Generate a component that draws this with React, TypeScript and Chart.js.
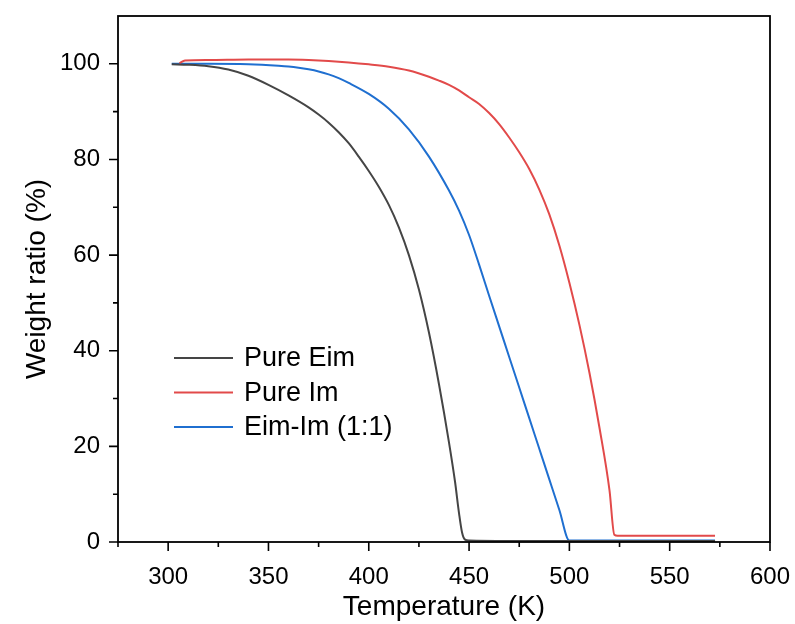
import React, { useEffect, useRef } from "react";
import { Chart, registerables } from "chart.js";

Chart.register(...registerables);

// Thermogravimetric curves: temperature (K) vs remaining weight (%)
const eimTemp = [301.8, 310, 320, 330, 340, 350, 360, 370, 375, 380, 385, 390, 395, 400, 405, 410, 415, 420, 425, 430, 435, 440, 443, 445, 446.5, 448, 450, 470, 500, 540, 572.6];
const eimWeight = [99.9, 99.8, 99.5, 98.8, 97.5, 95.6, 93.4, 90.9, 89.4, 87.7, 85.7, 83.4, 80.6, 77.6, 74.3, 70.5, 65.8, 60.0, 52.8, 43.8, 33.0, 20.8, 12.6, 6.0, 2.0, 0.5, 0.3, 0.2, 0.2, 0.2, 0.2];

const imTemp = [305.6, 308.4, 320, 340, 360, 370, 380, 390, 400, 410, 420, 430, 435, 440, 445, 450, 455, 460, 465, 470, 475, 480, 485, 490, 495, 500, 505, 510, 515, 520, 522.4, 524, 550, 572.6];
const imWeight = [100.1, 100.7, 100.8, 100.9, 100.9, 100.8, 100.6, 100.3, 99.9, 99.4, 98.6, 97.3, 96.5, 95.6, 94.45, 93.0, 91.6, 89.7, 87.4, 84.6, 81.5, 78.0, 73.7, 68.5, 62.0, 54.2, 45.4, 35.4, 23.9, 10.8, 1.5, 1.3, 1.3, 1.3];

const mixTemp = [301.8, 320, 340, 355, 360, 365, 370, 375, 380, 385, 390, 400, 410, 420, 430, 440, 445, 450, 455, 460, 465, 470, 475, 480, 485, 490, 495, 500, 520, 550, 572.6];
const mixWeight = [100.0, 100.0, 99.9, 99.6, 99.45, 99.2, 98.85, 98.4, 97.8, 97.0, 96.0, 93.7, 90.6, 86.3, 80.6, 73.5, 69.3, 64.2, 58.0, 51.5, 45.1, 38.7, 32.3, 25.9, 19.5, 13.1, 6.7, 0.3, 0.3, 0.3, 0.3];

const seriesLabels = ["Pure Eim", "Pure Im", "Eim-Im (1:1)"];
const seriesColors = ["#454545", "#e24a4a", "#1f6fd0"];

const xMajorTicks = [300, 350, 400, 450, 500, 550, 600];
const xMinorTicks = [275, 325, 375, 425, 475, 525, 575];
const yMajorTicks = [0, 20, 40, 60, 80, 100];
const yMinorTicks = [10, 30, 50, 70, 90];

const FONT = "'Liberation Sans', Arial, Helvetica, sans-serif";

const toPoints = (xs: number[], ys: number[]) => xs.map((x, i) => ({ x, y: ys[i] }));

// Keep the plot box at a fixed size: drop the label overhang padding Chart.js adds
const clearScalePadding = (s: any) => {
  s.paddingTop = 0;
  s.paddingBottom = 0;
  s.paddingLeft = 0;
  s.paddingRight = 0;
};

// Draws the closed frame, the outward major/minor ticks and the in-plot legend
const framePlugin = {
  id: "frameTicksLegend",
  afterDatasetsDraw(chart: any) {
    const { ctx, chartArea: a, scales } = chart;
    const xs = scales.x;
    const ys = scales.y;
    ctx.save();
    ctx.strokeStyle = "#000";
    ctx.lineWidth = 1.8;
    ctx.strokeRect(a.left, a.top, a.right - a.left, a.bottom - a.top);

    ctx.lineWidth = 1.6;
    ctx.beginPath();
    const tick = (v: number, len: number, horiz: boolean) => {
      if (horiz) {
        const px = xs.getPixelForValue(v);
        ctx.moveTo(px, a.bottom);
        ctx.lineTo(px, a.bottom + len);
      } else {
        const py = ys.getPixelForValue(v);
        ctx.moveTo(a.left, py);
        ctx.lineTo(a.left - len, py);
      }
    };
    xMajorTicks.forEach((v) => tick(v, 9, true));
    xMinorTicks.forEach((v) => tick(v, 5, true));
    yMajorTicks.forEach((v) => tick(v, 9, false));
    yMinorTicks.forEach((v) => tick(v, 5, false));
    ctx.stroke();

    // legend
    const lx0 = a.left + 56;
    const lx1 = a.left + 115;
    const tx = a.left + 126;
    const ty0 = a.top + 342;
    const rowGap = 34.5;
    ctx.font = `27px ${FONT}`;
    ctx.textBaseline = "middle";
    ctx.textAlign = "left";
    chart.data.datasets.forEach((ds: any, i: number) => {
      const yy = ty0 + i * rowGap;
      ctx.strokeStyle = ds.borderColor;
      ctx.lineWidth = 2;
      ctx.beginPath();
      ctx.moveTo(lx0, yy);
      ctx.lineTo(lx1, yy);
      ctx.stroke();
      ctx.fillStyle = "#000";
      ctx.fillText(ds.label, tx, yy + 1);
    });
    ctx.restore();
  },
};

export default function App() {
  const canvasRef = useRef<HTMLCanvasElement | null>(null);

  useEffect(() => {
    if (!canvasRef.current) return;
    const series = [
      toPoints(eimTemp, eimWeight),
      toPoints(imTemp, imWeight),
      toPoints(mixTemp, mixWeight),
    ];
    const chart = new Chart(canvasRef.current, {
      type: "line",
      data: {
        datasets: series.map((data, i) => ({
          label: seriesLabels[i],
          data,
          borderColor: seriesColors[i],
          backgroundColor: seriesColors[i],
          borderWidth: 2,
          pointRadius: 0,
          cubicInterpolationMode: "monotone" as const,
          fill: false,
        })),
      },
      options: {
        animation: false,
        responsive: true,
        maintainAspectRatio: false,
        layout: { padding: { top: 16, right: 25, left: 0, bottom: 0 } },
        plugins: {
          legend: { display: false },
          tooltip: { enabled: false },
        },
        scales: {
          x: {
            type: "linear",
            min: 275,
            max: 600,
            afterBuildTicks: (s: any) => {
              s.ticks = xMajorTicks.map((value) => ({ value }));
            },
            afterFit: (s: any) => {
              s.height = 82;
              clearScalePadding(s);
            },
            grid: { display: false, drawTicks: true, tickLength: 9 },
            border: { display: false },
            ticks: {
              padding: 12,
              color: "#000",
              font: { family: FONT, size: 24 },
              maxRotation: 0,
              autoSkip: false,
            },
            title: {
              display: true,
              text: "Temperature (K)",
              color: "#000",
              font: { family: FONT, size: 28 },
              padding: { top: 0, bottom: 0 },
            },
          },
          y: {
            type: "linear",
            min: 0,
            max: 110,
            afterBuildTicks: (s: any) => {
              s.ticks = yMajorTicks.map((value) => ({ value }));
            },
            afterFit: (s: any) => {
              s.width = 118;
              clearScalePadding(s);
            },
            grid: { display: false, drawTicks: true, tickLength: 9 },
            border: { display: false },
            ticks: {
              padding: 9,
              color: "#000",
              font: { family: FONT, size: 24 },
              autoSkip: false,
            },
            title: {
              display: true,
              text: "Weight ratio (%)",
              color: "#000",
              font: { family: FONT, size: 28 },
              padding: { top: 20, bottom: 0 },
            },
          },
        },
      },
      plugins: [framePlugin],
    });
    return () => chart.destroy();
  }, []);

  return (
    <div style={{ position: "absolute", left: 0, top: 0, width: 795, height: 624, background: "#fff" }}>
      <canvas ref={canvasRef} />
    </div>
  );
}
